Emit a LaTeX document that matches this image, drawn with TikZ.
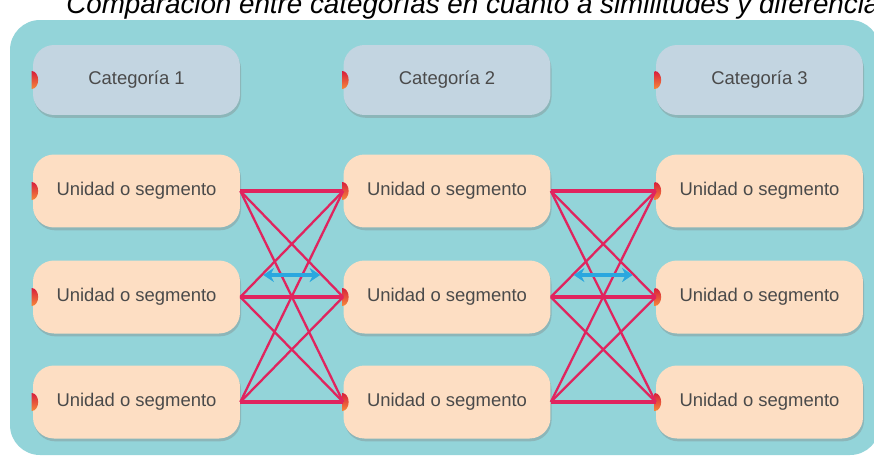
\documentclass[tikz,border=0pt]{standalone}
\usepackage{fontspec}
\setmainfont{Liberation Sans}
\usetikzlibrary{arrows.meta,positioning,calc,shadows}
\definecolor{panelteal}{HTML}{93D4D9}
\definecolor{catblue}{HTML}{C3D5E1}
\definecolor{unitpeach}{HTML}{FDDEC3}
\definecolor{linkred}{HTML}{E0245E}
\definecolor{gapblue}{HTML}{2AA7DF}
\definecolor{textgray}{HTML}{4A4A4A}
\definecolor{markred}{HTML}{D81E3C}
\definecolor{markorange}{HTML}{F5893A}
\tikzset{
  catbox/.style={fill=catblue,rounded corners=0.42cm,minimum width=4.14cm,
    minimum height=1.40cm,text=textgray,font=\fontsize{10.5}{12}\selectfont,
    drop shadow={shadow xshift=0.6pt,shadow yshift=-1.6pt,opacity=0.35}},
  unitbox/.style={catbox,fill=unitpeach,minimum height=1.46cm},
  pair/.style={draw=linkred,line width=2.6pt},
  cross/.style={draw=linkred,line width=1.3pt},
  gap/.style={draw=gapblue,line width=2pt,{Stealth[length=6pt,width=8pt]}-{Stealth[length=6pt,width=8pt]}},
  marker/.style={top color=markred,bottom color=markorange}
}
\begin{document}
\begin{tikzpicture}[x=0.02cm,y=-0.02cm]
  \useasboundingbox (0,0) rectangle (874,463);
  \clip (0,0) rectangle (874,463);
  \fill[white] (0,0) rectangle (874,463);

  %% Title (cut off at the top, as in the source)
  \node[anchor=base west,inner sep=0pt,font=\fontsize{15.8}{18}\selectfont\itshape]
        (title) at (66,13) {Comparación entre categorías en cuanto a similitudes y diferencias};

  %% Panel
  \fill[panelteal,rounded corners=0.6cm] (10,20) rectangle (880,455);

  %% Categories and units
  \foreach \c/\x in {1/136.5,2/447,3/759.5}{
    \node[catbox] (cat\c) at (\x,80) {Categoría \c};
    \foreach \r/\y in {1/191,2/297,3/402}
      \node[unitbox] (u\c\r) at (\x,\y) {Unidad o segmento};
  }

  %% Markers
  \foreach \n in {cat1,cat2,cat3,u11,u12,u13,u21,u22,u23,u31,u32,u33}
    \shade[marker] ($(\n.west)+(-1,-9)$)
      arc[start angle=90,end angle=-90,x radius=0.13cm,y radius=0.18cm] -- cycle;

  %% Links
  \foreach \a/\b in {1/2,2/3}{
    \foreach \i in {1,2,3}{
      \draw[pair] (u\a\i.east) -- (u\b\i.west);
      \foreach \j in {1,2,3}{
        \ifnum\i=\j\else
          \draw[cross] (u\a\i.east) -- (u\b\j.west);
        \fi
      }
    }
    \draw[gap] ($(u\a2.east)+(23,-22)$) -- ($(u\b2.west)+(-23,-22)$);
  }
\end{tikzpicture}
\end{document}
